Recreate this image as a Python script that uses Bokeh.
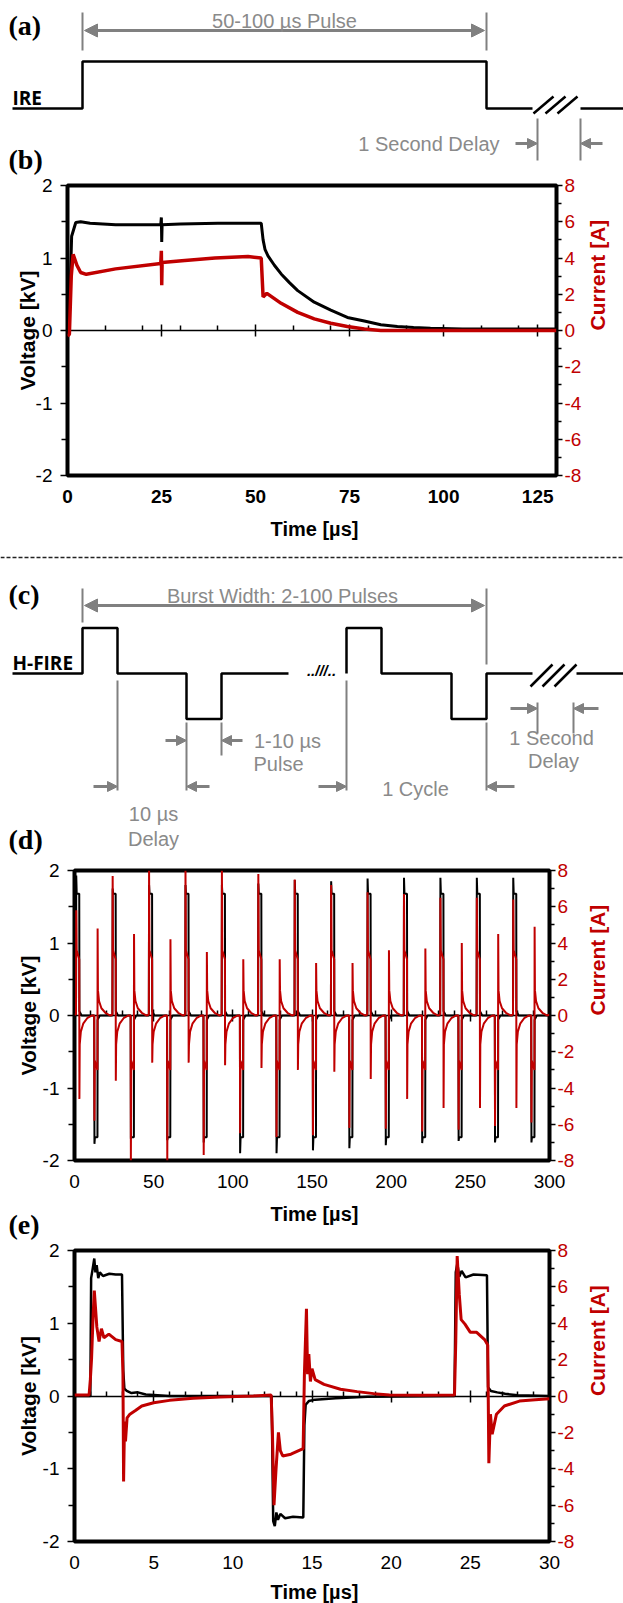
import math
from bokeh.plotting import figure
from bokeh.models import Range1d, LinearAxis, FixedTicker, Label, Arrow, NormalHead, Span
from bokeh.embed import file_html
from bokeh.resources import INLINE

W = 623
RED = "#C00000"
GLINE = "#808080"
GTEXT = "#8a8a8a"
SANS = "Liberation Sans"
SERIF = "Liberation Serif"
LBLF = "Open Sans"

# ---------------- axis ticks ----------------
volt_ticks = [-2, -1, 0, 1, 2]
volt_minor = [-1.5, -0.5, 0.5, 1.5]
curr_ticks = [-8, -6, -4, -2, 0, 2, 4, 6, 8]
curr_minor = [-7, -5, -3, -1, 1, 3, 5, 7]
b_xticks = [0, 25, 50, 75, 100, 125]
b_xminor = [10, 20, 30, 40, 60, 70, 80, 90, 110, 120]
d_xticks = [0, 50, 100, 150, 200, 250, 300]
d_xminor = [10, 20, 30, 40, 60, 70, 80, 90, 110, 120, 130, 140, 160, 170, 180, 190, 210, 220, 230, 240, 260, 270, 280, 290]
e_xticks = [0, 5, 10, 15, 20, 25, 30]
e_xminor = [1, 2, 3, 4, 6, 7, 8, 9, 11, 12, 13, 14, 16, 17, 18, 19, 21, 22, 23, 24, 26, 27, 28, 29]

# ---------------- (b) IRE pulse ----------------
b_time_v = [0, 0.4, 1.1, 2.2, 3.5, 6.0, 12.8, 24.8, 24.95, 25.05, 25.15, 30, 40, 51.5, 52, 52.5, 53.3, 55, 56.8, 59,
            61.2, 65.6, 70, 74.4, 78.9, 83.3, 87.7, 92, 96.5, 105, 130]
b_volt = [0, 0, 1.30, 1.49, 1.50, 1.48, 1.46, 1.46, 1.56, 1.22, 1.46, 1.47, 1.48, 1.48, 1.25, 1.12, 1.03, 0.90, 0.78, 0.66,
          0.55, 0.39, 0.28, 0.18, 0.13, 0.08, 0.055, 0.04, 0.03, 0.02, 0.02]
b_time_i = [0, 0.5, 1.0, 1.5, 2.5, 3.5, 5.0, 12.8, 24.8, 24.95, 25.05, 25.15, 30.4, 39.2, 48, 51.5, 52, 53, 56.8, 61.2,
            65.6, 70, 74.4, 78.9, 83.3, 130]
b_curr = [-0.3, -0.2, 3.0, 4.2, 3.6, 3.2, 3.1, 3.4, 3.7, 4.4, 2.5, 3.75, 3.85, 4.0, 4.08, 4.0, 1.85, 2.05, 1.5, 1.0,
          0.64, 0.4, 0.22, 0.08, 0.0, 0.0]

# ---------------- (d) H-FIRE burst (per-cycle values) ----------------
d_pos_start = [1, 24, 47, 70, 93, 116, 139, 162, 185, 208, 231, 254, 277]
d_neg_start = [12.5, 35.5, 58.5, 81.5, 104.5, 127.5, 150.5, 173.5, 196.5, 219.5, 242.5, 265.5, 288.5]
d_volt_pos_peak = [1.93, 1.75, 1.8, 1.8, 1.8, 1.82, 1.87, 1.85, 1.89, 1.9, 1.9, 1.9, 1.9]
d_volt_neg_peak = [-1.77, -1.7, -1.72, -1.75, -1.9, -1.9, -1.86, -1.83, -1.79, -1.76, -1.73, -1.75, -1.75]
d_curr_pos_peak = [5.8, 7.7, 8.0, 8.0, 8.0, 7.8, 7.5, 7.2, 6.8, 6.7, 6.5, 6.5, 6.4]
d_curr_pos_dip = [-4.6, -3.6, -2.6, -2.6, -2.75, -2.9, -3.0, -3.1, -3.5, -4.6, -5.1, -5.1, -5.1]
d_curr_neg_peak = [-5.8, -8.0, -8.0, -7.7, -6.5, -6.7, -6.6, -6.2, -6.25, -6.4, -6.3, -6.1, -5.9]
d_curr_neg_spike = [4.8, 4.5, 4.2, 3.5, 3.1, 3.1, 2.9, 2.9, 3.6, 3.7, 4.0, 4.5, 4.9]
# pulse shape: offsets from pulse start [us] and levels
pulse_dt_v = [-0.05, 0.1, 0.4, 2.0, 2.1, 3.5]
plateau_v = 1.68
pulse_dt_i = [-0.05, 0.1, 0.35, 2.0, 2.1, 2.3, 3.0, 4.5, 7.0, 10.0]
pos_body_i = [3.6, 3.1]
neg_body_i = [-2.5, -3.0]
pos_tail_i = [-1.6, -0.9, -0.45, -0.15, 0.0]
neg_tail_i = [1.4, 0.8, 0.4, 0.15, 0.0]

# ---------------- (e) two cycles, 0-30 us ----------------
e_time_v = [0, 1.0, 1.05, 1.15, 1.25, 1.32, 1.4, 1.5, 1.6, 1.8, 2.2, 2.6, 3.0, 3.08, 3.15, 3.3, 3.6, 4.0, 4.5, 6.0,
            12.45, 12.55, 12.65, 12.75, 12.85, 13.0, 13.3, 13.8, 14.45, 14.52, 14.6, 14.8, 15.2, 16.5, 18.5, 24.0,
            24.08, 24.18, 24.3, 24.45, 24.7, 25.2, 26.05, 26.12, 26.3, 26.7, 27.2, 28.0, 30.0]
e_volt = [0, 0, 1.62, 1.75, 1.89, 1.70, 1.80, 1.62, 1.70, 1.65, 1.68, 1.67, 1.67, 0.35, 0.10, 0.07, 0.04, 0.05, 0.02, 0.0,
          0.0, -1.72, -1.79, -1.60, -1.70, -1.62, -1.68, -1.66, -1.67, -0.40, -0.12, -0.07, -0.05, -0.03, -0.01, 0.0,
          1.70, 1.82, 1.64, 1.72, 1.63, 1.67, 1.66, 0.12, 0.07, 0.05, 0.03, 0.01, 0.0]
e_time_i = [0, 0.92, 1.0, 1.08, 1.18, 1.25, 1.33, 1.41, 1.55, 1.7, 1.86, 2.17, 2.6, 3.0, 3.06, 3.1, 3.16, 3.22, 3.32, 3.5,
            3.85, 4.25, 5.0, 6.0, 7.5, 9.2, 11.3, 12.42, 12.5, 12.6, 12.73, 12.88, 13.0, 13.15, 13.67, 14.3, 14.44, 14.52,
            14.65, 14.72, 14.8, 14.9, 15.0, 15.2, 15.76, 16.8, 17.85, 18.9, 19.9, 22.0, 24.0, 24.08, 24.17, 24.3, 24.42,
            24.66, 25.0, 25.4, 25.9, 26.1, 26.17, 26.27, 26.38, 26.65, 27.15, 28.1, 29.1, 30.0]
e_curr = [0.05, 0.05, 0.9, 2.1, 4.5, 5.8, 4.8, 3.8, 3.0, 3.7, 3.2, 3.4, 3.1, 3.0, 1.2, -4.7, -1.4, -2.5, -1.2, -1.0,
          -0.8, -0.55, -0.37, -0.24, -0.13, -0.05, 0.0, 0.05, -2.0, -6.0, -4.0, -2.0, -3.0, -3.3, -3.2, -2.95, -2.9, 1.2,
          4.8, 1.2, 2.3, 0.8, 1.5, 0.9, 0.64, 0.37, 0.24, 0.13, 0.06, 0.04, 0.05, 3.0, 7.7, 5.6, 4.2,
          3.95, 3.5, 3.5, 3.1, 2.8, -3.7, -1.0, -2.1, -1.0, -0.55, -0.28, -0.2, -0.15]

# ---------------- schematics (page-x positions, levels) ----------------
ire_x = [12, 82, 82, 486, 486, 532]
ire_lv = [0, 0, 1, 1, 0, 0]
ire_after_x = [580, 623]
hf_x1 = [12, 82, 82, 117, 117, 186, 186, 221, 221, 288]
hf_lv1 = [0, 0, 1, 1, 0, 0, -1, -1, 0, 0]
hf_x2 = [346, 346, 381, 381, 451, 451, 486, 486, 532]
hf_lv2 = [0, 1, 1, 0, 0, -1, -1, 0, 0]
hf_after_x = [576, 623]


# ---------------- helpers ----------------
def txt(p, x, y, s, size=20, color=GTEXT, font=SANS, style="normal", align="center", baseline="middle", angle=0.0):
    p.add_layout(Label(x=x, y=y, text=s, text_font=font, text_font_size=f"{size}px", text_color=color,
                       text_font_style=style, text_align=align, text_baseline=baseline, angle=angle))


def arrow(p, x0, x1, y, size=10, both=False):
    def head():
        return NormalHead(size=size, fill_color=GLINE, line_color=GLINE, line_width=1)
    p.add_layout(Arrow(start=head() if both else None, end=head(), x_start=x0, y_start=y, x_end=x1, y_end=y,
                       line_color=GLINE, line_width=3))


def blank(height, y_lo, y_hi):
    p = figure(width=W, height=height, x_range=Range1d(0, W), y_range=Range1d(y_lo, y_hi),
               x_axis_type=None, y_axis_type=None, output_backend="svg", toolbar_location=None,
               min_border_left=0, min_border_right=0, min_border_top=0, min_border_bottom=0)
    p.outline_line_color = None
    return p


def schem(height, top_page, base_page, ppl):
    return blank(height, (base_page - (top_page + height)) / ppl, (base_page - top_page) / ppl)


def strip(top_page, bottom_page):
    # text strip: data y equals page y
    return blank(bottom_page - top_page, bottom_page, top_page)


def tick_text(ticks):
    return {t: f"{t:g}" for t in ticks}


def panel(top_page, bottom_page, frame_top, frame_bot, fl, fr, xmax, xmaj, xmin, xbold, lstand, rstand):
    p = figure(width=W, height=bottom_page - top_page, x_range=Range1d(0, xmax), y_range=Range1d(-2, 2),
               output_backend="svg", toolbar_location=None,
               min_border_left=fl, min_border_right=W - fr,
               min_border_top=frame_top - top_page, min_border_bottom=bottom_page - frame_bot)
    p.extra_y_ranges = {"cur": Range1d(-8, 8)}
    p.grid.visible = False
    p.outline_line_color = "black"
    p.outline_line_width = 4
    ya = p.yaxis[0]
    ya.ticker = FixedTicker(ticks=volt_ticks, minor_ticks=volt_minor)
    ya.major_label_overrides = tick_text(volt_ticks)
    ya.axis_line_color = None
    ya.major_tick_out = 7
    ya.major_tick_in = 0
    ya.minor_tick_out = 6
    ya.minor_tick_in = 0
    ya.major_tick_line_width = 1.5
    ya.minor_tick_line_width = 1.5
    ya.major_label_standoff = 8
    ya.major_label_text_font = SANS
    ya.major_label_text_font_size = "19px"
    ya.major_label_text_color = "black"
    ya.axis_label = "Voltage [kV]"
    ya.axis_label_standoff = lstand
    ya.axis_label_text_font = SANS
    ya.axis_label_text_font_size = "21px"
    ya.axis_label_text_font_style = "bold"
    ya.axis_label_text_color = "black"
    ra = LinearAxis(y_range_name="cur", ticker=FixedTicker(ticks=curr_ticks, minor_ticks=curr_minor),
                    major_label_overrides=tick_text(curr_ticks),
                    axis_line_color=None, major_tick_out=6, major_tick_in=0, minor_tick_out=5, minor_tick_in=0,
                    major_tick_line_width=1.5, minor_tick_line_width=1.5, major_label_standoff=2,
                    major_label_text_font=SANS, major_label_text_font_size="19px", major_label_text_color=RED,
                    axis_label="Current [A]", axis_label_standoff=rstand, axis_label_text_font=SANS,
                    axis_label_text_font_size="21px", axis_label_text_font_style="bold", axis_label_text_color=RED)
    try:
        ra.axis_label_orientation = math.pi / 2
    except Exception:
        pass
    p.add_layout(ra, "right")
    xa = p.xaxis[0]
    xa.ticker = FixedTicker(ticks=xmaj)
    xa.axis_line_color = None
    xa.major_tick_line_color = None
    xa.minor_tick_line_color = None
    xa.major_tick_out = 0
    xa.major_tick_in = 0
    xa.minor_tick_out = 0
    xa.minor_tick_in = 0
    xa.major_label_standoff = 14
    xa.major_label_text_font = SANS
    xa.major_label_text_font_size = "19px"
    xa.major_label_text_color = "black"
    xa.major_label_text_font_style = "bold" if xbold else "normal"
    za = LinearAxis(fixed_location=0, ticker=FixedTicker(ticks=xmaj, minor_ticks=xmin),
                    major_tick_in=6, major_tick_out=6, minor_tick_in=5, minor_tick_out=0,
                    axis_line_width=1.5, major_tick_line_width=1.5, minor_tick_line_width=1.5,
                    major_label_text_font_size="0px", major_label_text_color=None, major_label_standoff=0)
    za.level = "underlay"
    p.add_layout(za, "below")
    return p


def time_label(p, y):
    txt(p, 314, y, "Time [µs]", size=20, color="black", style="bold")


# ================= (a) =================
A_BASE, A_PPL = 108, 47.0
fa = schem(176, 0, A_BASE, A_PPL)
la = lambda py: (A_BASE - py) / A_PPL
fa.line(ire_x, ire_lv, line_color="black", line_width=2.5)
fa.line(ire_after_x, [0, 0], line_color="black", line_width=2.5)
brk_a = [533, 545, 557]
fa.segment(x0=brk_a, y0=[la(113)] * 3, x1=[b + 20 for b in brk_a], y1=[la(96)] * 3, line_color="black", line_width=2.5)
ga_x = [82, 486, 537, 580]
ga_y0 = [12, 12, 118, 118]
ga_y1 = [50, 50, 160, 160]
fa.segment(x0=ga_x, y0=[la(v) for v in ga_y0], x1=ga_x, y1=[la(v) for v in ga_y1], line_color=GLINE, line_width=2)
arrow(fa, 84, 484, la(30), size=13, both=True)
arrow(fa, 515, 537, la(143))
arrow(fa, 602, 580, la(143))
txt(fa, 284, la(20), "50-100 µs Pulse")
txt(fa, 499, la(143), "1 Second Delay", align="right")
txt(fa, 12, la(97), "IRE", size=19, color="black", font=LBLF, style="bold", align="left")
txt(fa, 8, la(25), "(a)", size=28, color="black", font=SERIF, style="bold", align="left")
txt(fa, 8, la(159), "(b)", size=28, color="black", font=SERIF, style="bold", align="left")

# ================= (b) =================
fb = panel(176, 516, 185, 475, 67, 561, 130, b_xticks, b_xminor, True, -6, 13)
fb.line(b_time_v, b_volt, line_color="black", line_width=3)
fb.line(b_time_i, b_curr, line_color=RED, line_width=3.5, y_range_name="cur")
fbt = strip(516, 545)
time_label(fbt, 528)

# ================= (c) =================
C_TOP, C_H, C_BASE, C_PPL = 545, 313, 673, 45.5
fc = schem(C_H, C_TOP, C_BASE, C_PPL)
lc = lambda py: (C_BASE - py) / C_PPL
fc.add_layout(Span(location=lc(557), dimension="width", line_color="#222222", line_width=1.5, line_dash="4 2"))
fc.line(hf_x1, hf_lv1, line_color="black", line_width=2.5)
fc.line(hf_x2, hf_lv2, line_color="black", line_width=2.5)
fc.line(hf_after_x, [0, 0], line_color="black", line_width=2.5)
brk_c = [530, 542, 554]
fc.segment(x0=brk_c, y0=[lc(686)] * 3, x1=[b + 22 for b in brk_c], y1=[lc(664)] * 3, line_color="black", line_width=2.5)
gc_x = [82, 486, 117, 186, 221, 346, 486, 537, 573]
gc_y0 = [588, 588, 680, 722, 722, 680, 722, 702, 702]
gc_y1 = [622, 664, 790, 790, 755, 790, 790, 733, 733]
fc.segment(x0=gc_x, y0=[lc(v) for v in gc_y0], x1=gc_x, y1=[lc(v) for v in gc_y1], line_color=GLINE, line_width=2)
arrow(fc, 84, 484, lc(605), size=13, both=True)
arrow(fc, 93, 117, lc(786))
arrow(fc, 209, 186, lc(786))
arrow(fc, 165, 186, lc(740))
arrow(fc, 242, 221, lc(740))
arrow(fc, 318, 346, lc(786))
arrow(fc, 514, 486, lc(786))
arrow(fc, 510, 537, lc(708))
arrow(fc, 598, 573, lc(708))
txt(fc, 282, lc(595), "Burst Width: 2-100 Pulses")
txt(fc, 287, lc(740), "1-10 µs")
txt(fc, 278, lc(763), "Pulse")
txt(fc, 415, lc(788), "1 Cycle")
txt(fc, 551, lc(737), "1 Second")
txt(fc, 553, lc(760), "Delay")
txt(fc, 153, lc(813), "10 µs")
txt(fc, 153, lc(838), "Delay")
txt(fc, 321, lc(670), "..///..", size=15, color="black", font=SANS, style="bold italic")
txt(fc, 12, lc(662), "H-FIRE", size=19, color="black", font=LBLF, style="bold", align="left")
txt(fc, 8, lc(594), "(c)", size=28, color="black", font=SERIF, style="bold", align="left")
txt(fc, 8, lc(839), "(d)", size=28, color="black", font=SERIF, style="bold", align="left")

# ================= (d) =================
d_tv, d_v = [0.0], [0.0]
d_ti, d_i = [0.0], [0.05]
for k in range(len(d_pos_start)):
    tp, tn = d_pos_start[k], d_neg_start[k]
    d_tv += [tp + dt for dt in pulse_dt_v]
    d_v += [0, d_volt_pos_peak[k], plateau_v, plateau_v, 0.06, 0]
    d_tv += [tn + dt for dt in pulse_dt_v]
    d_v += [0, d_volt_neg_peak[k], -plateau_v, -plateau_v, -0.06, 0]
    d_ti += [tp + dt for dt in pulse_dt_i]
    d_i += [0.05, d_curr_pos_peak[k]] + pos_body_i + [d_curr_pos_dip[k]] + pos_tail_i
    d_ti += [tn + dt for dt in pulse_dt_i]
    d_i += [0.0, d_curr_neg_peak[k]] + neg_body_i + [d_curr_neg_spike[k]] + neg_tail_i
d_tv.append(300.0)
d_v.append(0.0)
d_ti.append(300.0)
d_i.append(0.05)

fd = panel(858, 1201, 870, 1160, 74, 554, 300, d_xticks, d_xminor, False, 0, 20)
fd.line(d_tv, d_v, line_color="black", line_width=2)
fd.line(d_ti, d_i, line_color=RED, line_width=2, y_range_name="cur")
fdt = strip(1201, 1240)
time_label(fdt, 1213)
txt(fdt, 8, 1224, "(e)", size=28, color="black", font=SERIF, style="bold", align="left")

# ================= (e) =================
fe = panel(1240, 1580, 1250, 1541, 74, 554, 30, e_xticks, e_xminor, False, 0, 20)
fe.line(e_time_v, e_volt, line_color="black", line_width=2.5)
fe.line(e_time_i, e_curr, line_color=RED, line_width=3, y_range_name="cur")
fet = strip(1580, 1603)
time_label(fet, 1591.8)

open("out.html", "w").write(file_html([fa, fb, fbt, fc, fd, fdt, fe, fet], INLINE))
